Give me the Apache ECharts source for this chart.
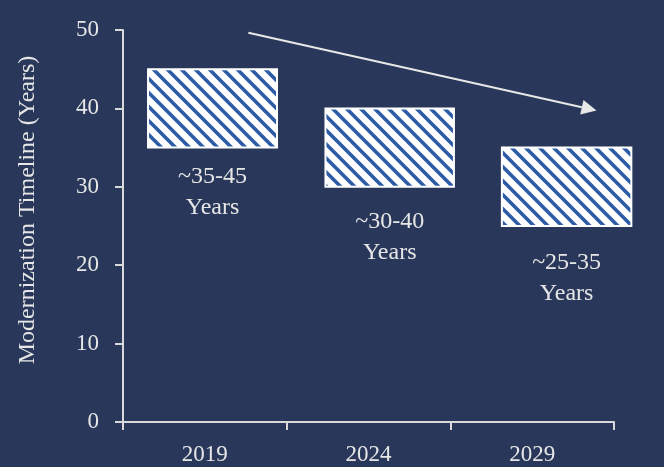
<!DOCTYPE html>
<html>
<head>
<meta charset="utf-8">
<script src="https://cdn.jsdelivr.net/npm/echarts@6/dist/echarts.min.js"></script>
<style>
html,body{margin:0;padding:0;background:#29385a;}
#chart{width:664px;height:467px;}
</style>
</head>
<body>
<div id="chart"></div>
<script>
// ---- data ----
var categories = ['2019', '2024', '2029'];
var rangeLow = [35, 30, 25];
var rangeHigh = [45, 40, 35];
var rangeLabels = ['~35-45\nYears', '~30-40\nYears', '~25-35\nYears'];
// horizontal extent of each box on the hidden 0..3 band scale
var boxStart = [0.153, 1.237, 2.315];
var boxEnd = [0.941, 2.022, 3.106];
// vertical centre of each two-line label (years)
var labelY = [29.3, 23.6, 18.3];
// trend arrow start/end on the hidden scale
var arrowFrom = [0.766, 49.66];
var arrowTo = [2.893, 39.73];
var yTicks = [0, 10, 20, 30, 40, 50];

var FONT = 'Liberation Serif';
var AXIS = '#d9d9d9';
var TEXT = '#e6e6e6';

// hatch pattern
var tile = document.createElement('canvas');
tile.width = 14; tile.height = 14;
var g = tile.getContext('2d');
g.fillStyle = '#ffffff';
g.fillRect(0, 0, 14, 14);
g.strokeStyle = '#2d5ca6';
g.lineWidth = 3.6;
g.beginPath();
g.moveTo(-3, -3); g.lineTo(17, 17);
g.moveTo(9, -5); g.lineTo(19, 5);
g.moveTo(-5, 9); g.lineTo(5, 19);
g.stroke();

var boxData = categories.map(function (c, i) {
  return [boxStart[i], boxEnd[i], rangeLow[i], rangeHigh[i]];
});
var labelData = categories.map(function (c, i) {
  return [(boxStart[i] + boxEnd[i]) / 2, labelY[i], i];
});

var chart = echarts.init(document.getElementById('chart'), null, {renderer: 'canvas'});
chart.setOption({
  backgroundColor: '#29385a',
  animation: false,
  grid: {left: 123, right: 50, top: 30, bottom: 45, containLabel: false},
  xAxis: [{
    type: 'category',
    data: categories,
    boundaryGap: true,
    axisLine: {lineStyle: {color: AXIS, width: 2}},
    axisTick: {show: true, length: 8, lineStyle: {color: AXIS, width: 2}},
    axisLabel: {color: TEXT, fontFamily: FONT, fontSize: 23, margin: 21}
  }, {
    type: 'value', min: 0, max: 3, show: false
  }],
  yAxis: {
    type: 'value', min: 0, max: 50, interval: 10,
    axisLine: {show: true, lineStyle: {color: AXIS, width: 2}},
    axisTick: {show: true, length: 8, lineStyle: {color: AXIS, width: 2}},
    splitLine: {show: false},
    axisLabel: {color: TEXT, fontFamily: FONT, fontSize: 23, margin: 24,
      formatter: function (v) { return yTicks.indexOf(v) >= 0 ? String(v) : ''; }}
  },
  graphic: [{
    type: 'text',
    x: 28, y: 210,
    rotation: Math.PI / 2,
    style: {text: 'Modernization Timeline (Years)', fill: TEXT, font: '24px "Liberation Serif"',
      align: 'center', verticalAlign: 'middle'}
  }],
  series: [{
    type: 'custom',
    xAxisIndex: 1,
    clip: false,
    data: boxData,
    renderItem: function (params, api) {
      var p0 = api.coord([api.value(0), api.value(3)]);
      var p1 = api.coord([api.value(1), api.value(2)]);
      return {
        type: 'rect',
        shape: {x: p0[0], y: p0[1], width: p1[0] - p0[0], height: p1[1] - p0[1]},
        style: {fill: {image: tile, repeat: 'repeat'}, stroke: '#ffffff', lineWidth: 2}
      };
    }
  }, {
    type: 'custom',
    xAxisIndex: 1,
    clip: false,
    data: labelData,
    renderItem: function (params, api) {
      var p = api.coord([api.value(0), api.value(1)]);
      return {
        type: 'text',
        x: p[0], y: p[1],
        style: {
          text: rangeLabels[params.dataIndex],
          fill: TEXT, font: '24px "Liberation Serif"',
          align: 'center', verticalAlign: 'middle', lineHeight: 31
        }
      };
    }
  }, {
    type: 'custom',
    xAxisIndex: 1,
    clip: false,
    data: [[arrowFrom[0], arrowFrom[1], arrowTo[0], arrowTo[1]]],
    renderItem: function (params, api) {
      var a = api.coord([api.value(0), api.value(1)]);
      var b = api.coord([api.value(2), api.value(3)]);
      var dx = b[0] - a[0], dy = b[1] - a[1];
      var len = Math.sqrt(dx * dx + dy * dy);
      var ux = dx / len, uy = dy / len;
      var hl = 15, hw = 7.5;
      var base = [b[0] - ux * hl, b[1] - uy * hl];
      return {
        type: 'group',
        children: [{
          type: 'line',
          shape: {x1: a[0], y1: a[1], x2: base[0], y2: base[1]},
          style: {stroke: '#e8e8e8', lineWidth: 2}
        }, {
          type: 'polygon',
          shape: {points: [b, [base[0] - uy * hw, base[1] + ux * hw], [base[0] + uy * hw, base[1] - ux * hw]]},
          style: {fill: '#e8e8e8'}
        }]
      };
    }
  }]
});
</script>
</body>
</html>
